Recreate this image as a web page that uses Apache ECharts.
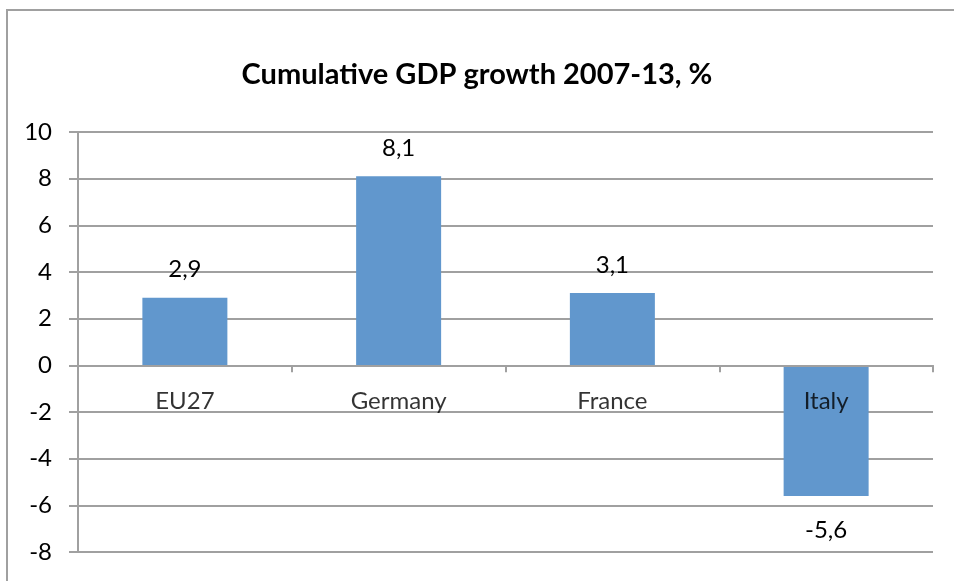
<!DOCTYPE html>
<html><head><meta charset="utf-8">
<script src="https://cdn.jsdelivr.net/npm/echarts@6/dist/echarts.min.js"></script>
<style>html,body{margin:0;padding:0;background:#fff}#c{width:954px;height:581px}</style>
</head><body><div id="c"></div>
<script>
const categories = ["EU27", "Germany", "France", "Italy"];
const values = [2.9, 8.1, 3.1, -5.6];
const yTicks = [-8, -6, -4, -2, 0, 2, 4, 6, 8, 10];
const titleText = "Cumulative GDP growth 2007-13, %";

const FONT = "Lato";
const chart = echarts.init(document.getElementById('c'));
chart.setOption({
  backgroundColor: '#fff',
  animation: false,
  title: {
    text: titleText, left: 'center', top: 55,
    textStyle: { fontFamily: FONT, fontWeight: 'bold', fontSize: 29, color: '#000' }
  },
  graphic: [{
    type: 'rect', shape: { x: 7, y: 10, width: 1000, height: 700 },
    style: { fill: 'none', stroke: '#a0a0a0', lineWidth: 2 }, silent: true
  }],
  grid: { left: 78, right: 21, top: 132, bottom: 29, containLabel: false, outerBoundsMode: 'none' },
  xAxis: {
    type: 'category', data: categories, z: 5,
    axisLine: { onZero: true, lineStyle: { color: '#a0a0a0', width: 2 } },
    axisTick: { show: true, length: 7, alignWithLabel: false, lineStyle: { color: '#a0a0a0', width: 2 } },
    axisLabel: { show: false },
    splitLine: { show: false }
  },
  yAxis: {
    type: 'value', min: yTicks[0], max: yTicks[yTicks.length - 1], interval: 2,
    axisLine: { show: true, lineStyle: { color: '#a0a0a0', width: 2 } },
    axisTick: { show: true, length: 9, lineStyle: { color: '#a0a0a0', width: 2 } },
    axisLabel: { margin: 26, fontFamily: FONT, fontSize: 24, color: '#000' },
    splitLine: { show: true, lineStyle: { color: '#a0a0a0', width: 2 } }
  },
  series: [{
    type: 'bar', barWidth: 85,
    data: values.map(v => ({
      value: v,
      label: { show: true, position: v >= 0 ? 'top' : 'bottom', distance: v >= 0 ? 16 : 22 }
    })),
    itemStyle: { color: '#6197CD' },
    label: {
      fontFamily: FONT, fontSize: 24, color: '#000',
      formatter: p => String(p.value).replace('.', ',')
    }
  }, {
    type: 'scatter', symbolSize: 0, z: 10, silent: true,
    data: categories.map(() => 0),
    label: {
      show: true, position: 'bottom', distance: 24,
      fontFamily: FONT, fontSize: 24, color: '#000',
      formatter: p => p.name
    }
  }]
});
</script></body></html>
